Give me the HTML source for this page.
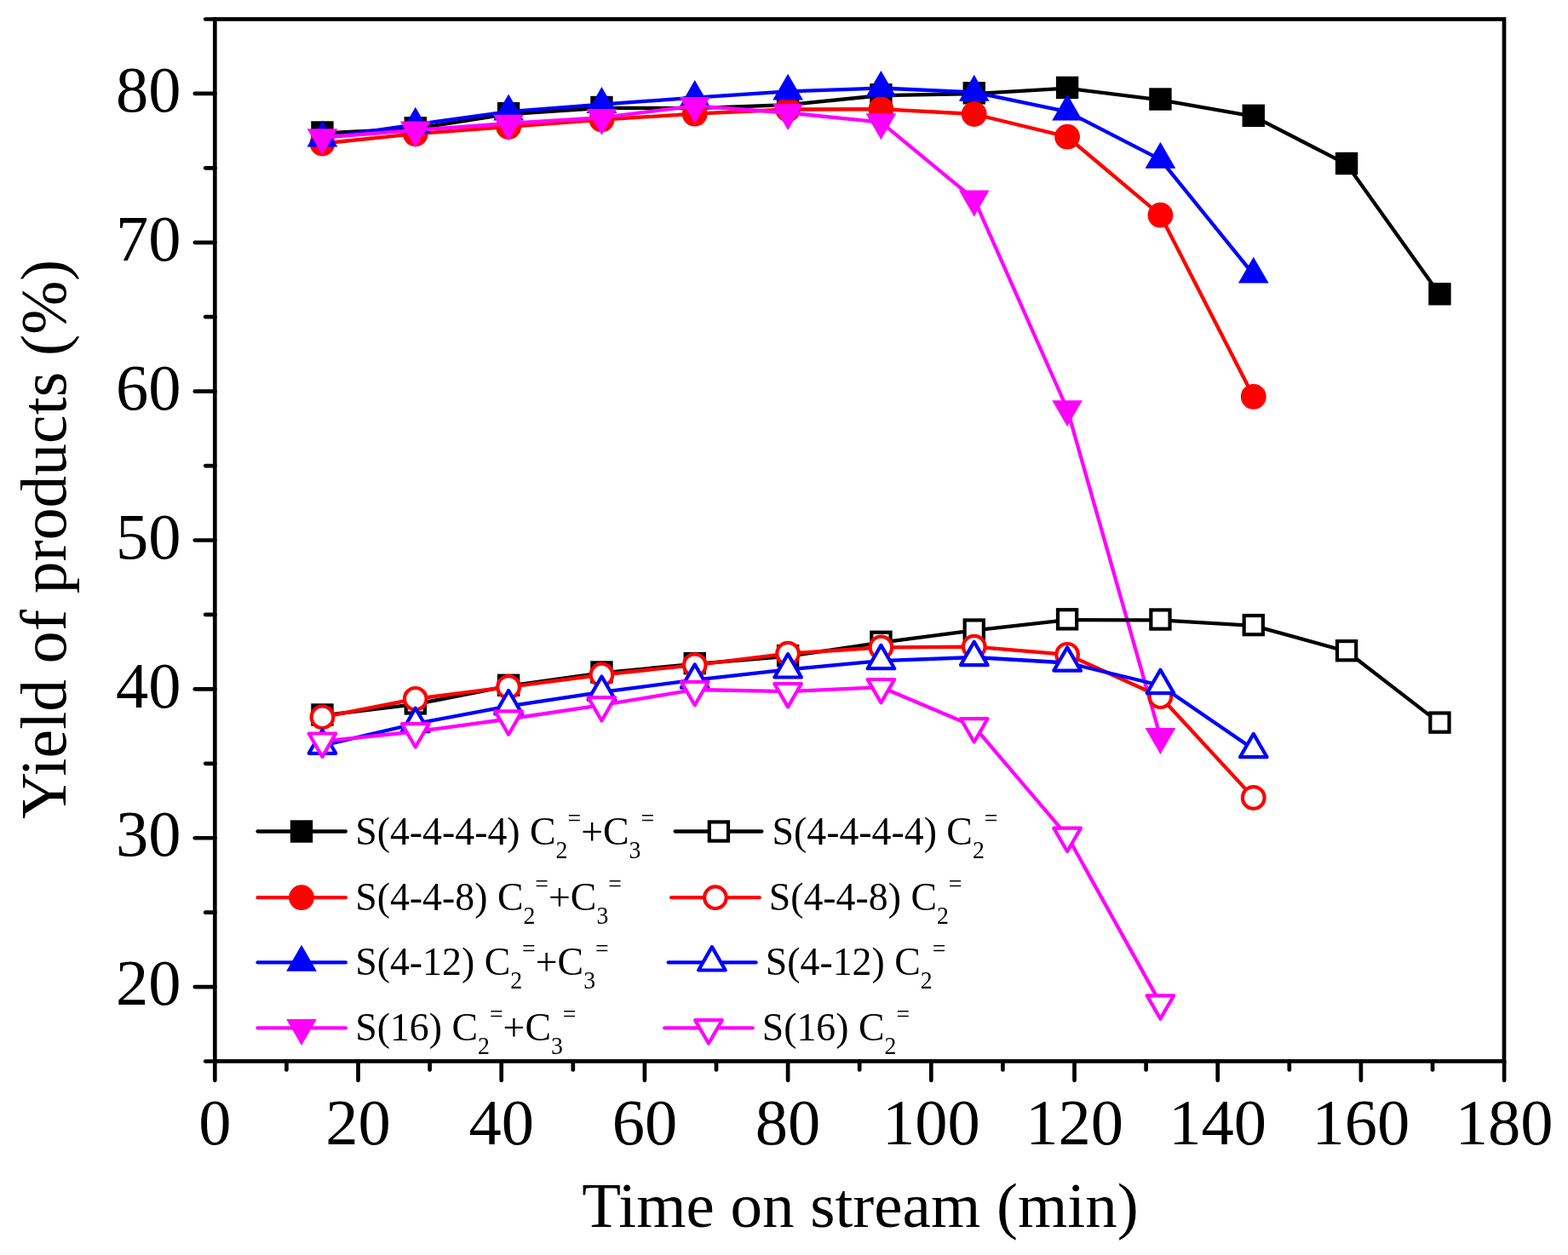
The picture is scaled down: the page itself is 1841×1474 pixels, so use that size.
<!DOCTYPE html>
<html><head><meta charset="utf-8"><title>Yield of products vs time on stream</title>
<style>html,body{margin:0;padding:0;background:#fff;}svg{display:block;}</style>
</head><body>
<svg width="1841" height="1474" viewBox="0 0 1841 1474">
<rect width="1841" height="1474" fill="#ffffff"/>
<path d="M378.45,156.30 L487.78,151.10 L597.11,134.00 L706.44,126.80 L815.77,127.10 L925.10,123.20 L1034.43,112.10 L1143.76,110.10 L1253.09,103.70 L1362.42,117.30 L1471.75,136.60 L1581.08,192.80 L1690.41,346.10" fill="none" stroke="#000000" stroke-width="4.3" stroke-linejoin="round" stroke-linecap="round"/>
<rect x="367.35" y="144.40" width="22.2" height="22.2" fill="#000000" stroke="#000000" stroke-width="4.2"/>
<rect x="476.68" y="139.20" width="22.2" height="22.2" fill="#000000" stroke="#000000" stroke-width="4.2"/>
<rect x="586.01" y="122.10" width="22.2" height="22.2" fill="#000000" stroke="#000000" stroke-width="4.2"/>
<rect x="695.34" y="114.90" width="22.2" height="22.2" fill="#000000" stroke="#000000" stroke-width="4.2"/>
<rect x="804.67" y="115.20" width="22.2" height="22.2" fill="#000000" stroke="#000000" stroke-width="4.2"/>
<rect x="914.00" y="111.30" width="22.2" height="22.2" fill="#000000" stroke="#000000" stroke-width="4.2"/>
<rect x="1023.33" y="100.20" width="22.2" height="22.2" fill="#000000" stroke="#000000" stroke-width="4.2"/>
<rect x="1132.66" y="98.20" width="22.2" height="22.2" fill="#000000" stroke="#000000" stroke-width="4.2"/>
<rect x="1241.99" y="91.80" width="22.2" height="22.2" fill="#000000" stroke="#000000" stroke-width="4.2"/>
<rect x="1351.32" y="105.40" width="22.2" height="22.2" fill="#000000" stroke="#000000" stroke-width="4.2"/>
<rect x="1460.65" y="124.70" width="22.2" height="22.2" fill="#000000" stroke="#000000" stroke-width="4.2"/>
<rect x="1569.98" y="180.90" width="22.2" height="22.2" fill="#000000" stroke="#000000" stroke-width="4.2"/>
<rect x="1679.31" y="334.20" width="22.2" height="22.2" fill="#000000" stroke="#000000" stroke-width="4.2"/>
<path d="M378.45,168.50 L487.78,157.10 L597.11,148.90 L706.44,140.50 L815.77,133.70 L925.10,128.50 L1034.43,128.20 L1143.76,134.00 L1253.09,160.70 L1362.42,252.70 L1471.75,465.90" fill="none" stroke="#ff0000" stroke-width="4.3" stroke-linejoin="round" stroke-linecap="round"/>
<circle cx="378.45" cy="168.50" r="12.8" fill="#ff0000" stroke="#ff0000" stroke-width="4.2"/>
<circle cx="487.78" cy="157.10" r="12.8" fill="#ff0000" stroke="#ff0000" stroke-width="4.2"/>
<circle cx="597.11" cy="148.90" r="12.8" fill="#ff0000" stroke="#ff0000" stroke-width="4.2"/>
<circle cx="706.44" cy="140.50" r="12.8" fill="#ff0000" stroke="#ff0000" stroke-width="4.2"/>
<circle cx="815.77" cy="133.70" r="12.8" fill="#ff0000" stroke="#ff0000" stroke-width="4.2"/>
<circle cx="925.10" cy="128.50" r="12.8" fill="#ff0000" stroke="#ff0000" stroke-width="4.2"/>
<circle cx="1034.43" cy="128.20" r="12.8" fill="#ff0000" stroke="#ff0000" stroke-width="4.2"/>
<circle cx="1143.76" cy="134.00" r="12.8" fill="#ff0000" stroke="#ff0000" stroke-width="4.2"/>
<circle cx="1253.09" cy="160.70" r="12.8" fill="#ff0000" stroke="#ff0000" stroke-width="4.2"/>
<circle cx="1362.42" cy="252.70" r="12.8" fill="#ff0000" stroke="#ff0000" stroke-width="4.2"/>
<circle cx="1471.75" cy="465.90" r="12.8" fill="#ff0000" stroke="#ff0000" stroke-width="4.2"/>
<path d="M378.45,162.20 L487.78,146.30 L597.11,131.10 L706.44,122.60 L815.77,114.60 L925.10,107.30 L1034.43,103.50 L1143.76,108.40 L1253.09,131.20 L1362.42,187.40 L1471.75,322.30" fill="none" stroke="#0000ff" stroke-width="4.3" stroke-linejoin="round" stroke-linecap="round"/>
<polygon points="378.45,141.59 396.30,172.51 360.60,172.51" fill="#0000ff"/>
<polygon points="487.78,125.69 505.63,156.61 469.93,156.61" fill="#0000ff"/>
<polygon points="597.11,110.49 614.96,141.41 579.26,141.41" fill="#0000ff"/>
<polygon points="706.44,101.99 724.29,132.91 688.59,132.91" fill="#0000ff"/>
<polygon points="815.77,93.99 833.62,124.91 797.92,124.91" fill="#0000ff"/>
<polygon points="925.10,86.69 942.95,117.61 907.25,117.61" fill="#0000ff"/>
<polygon points="1034.43,82.89 1052.28,113.81 1016.58,113.81" fill="#0000ff"/>
<polygon points="1143.76,87.79 1161.61,118.71 1125.91,118.71" fill="#0000ff"/>
<polygon points="1253.09,110.59 1270.94,141.51 1235.24,141.51" fill="#0000ff"/>
<polygon points="1362.42,166.79 1380.27,197.71 1344.57,197.71" fill="#0000ff"/>
<polygon points="1471.75,301.69 1489.60,332.61 1453.90,332.61" fill="#0000ff"/>
<path d="M378.45,161.50 L487.78,152.80 L597.11,145.00 L706.44,138.20 L815.77,124.40 L925.10,132.50 L1034.43,143.60 L1143.76,233.80 L1253.09,480.50 L1362.42,865.30" fill="none" stroke="#ff00ff" stroke-width="4.3" stroke-linejoin="round" stroke-linecap="round"/>
<polygon points="378.45,182.11 396.30,151.19 360.60,151.19" fill="#ff00ff"/>
<polygon points="487.78,173.41 505.63,142.49 469.93,142.49" fill="#ff00ff"/>
<polygon points="597.11,165.61 614.96,134.69 579.26,134.69" fill="#ff00ff"/>
<polygon points="706.44,158.81 724.29,127.89 688.59,127.89" fill="#ff00ff"/>
<polygon points="815.77,145.01 833.62,114.09 797.92,114.09" fill="#ff00ff"/>
<polygon points="925.10,153.11 942.95,122.19 907.25,122.19" fill="#ff00ff"/>
<polygon points="1034.43,164.21 1052.28,133.29 1016.58,133.29" fill="#ff00ff"/>
<polygon points="1143.76,254.41 1161.61,223.49 1125.91,223.49" fill="#ff00ff"/>
<polygon points="1253.09,501.11 1270.94,470.19 1235.24,470.19" fill="#ff00ff"/>
<polygon points="1362.42,885.91 1380.27,854.99 1344.57,854.99" fill="#ff00ff"/>
<path d="M378.45,840.30 L487.78,827.20 L597.11,805.60 L706.44,790.30 L815.77,779.90 L925.10,770.90 L1034.43,754.60 L1143.76,740.30 L1253.09,728.10 L1362.42,728.30 L1471.75,734.90 L1581.08,765.00 L1690.41,849.40" fill="none" stroke="#000000" stroke-width="4.3" stroke-linejoin="round" stroke-linecap="round"/>
<rect x="367.35" y="828.40" width="22.2" height="22.2" fill="#ffffff" stroke="#000000" stroke-width="4.2"/>
<rect x="476.68" y="815.30" width="22.2" height="22.2" fill="#ffffff" stroke="#000000" stroke-width="4.2"/>
<rect x="586.01" y="793.70" width="22.2" height="22.2" fill="#ffffff" stroke="#000000" stroke-width="4.2"/>
<rect x="695.34" y="778.40" width="22.2" height="22.2" fill="#ffffff" stroke="#000000" stroke-width="4.2"/>
<rect x="804.67" y="768.00" width="22.2" height="22.2" fill="#ffffff" stroke="#000000" stroke-width="4.2"/>
<rect x="914.00" y="759.00" width="22.2" height="22.2" fill="#ffffff" stroke="#000000" stroke-width="4.2"/>
<rect x="1023.33" y="742.70" width="22.2" height="22.2" fill="#ffffff" stroke="#000000" stroke-width="4.2"/>
<rect x="1132.66" y="728.40" width="22.2" height="22.2" fill="#ffffff" stroke="#000000" stroke-width="4.2"/>
<rect x="1241.99" y="716.20" width="22.2" height="22.2" fill="#ffffff" stroke="#000000" stroke-width="4.2"/>
<rect x="1351.32" y="716.40" width="22.2" height="22.2" fill="#ffffff" stroke="#000000" stroke-width="4.2"/>
<rect x="1460.65" y="723.00" width="22.2" height="22.2" fill="#ffffff" stroke="#000000" stroke-width="4.2"/>
<rect x="1569.98" y="753.10" width="22.2" height="22.2" fill="#ffffff" stroke="#000000" stroke-width="4.2"/>
<rect x="1679.31" y="837.50" width="22.2" height="22.2" fill="#ffffff" stroke="#000000" stroke-width="4.2"/>
<path d="M378.45,842.30 L487.78,820.80 L597.11,806.90 L706.44,792.50 L815.77,781.10 L925.10,767.60 L1034.43,760.40 L1143.76,759.60 L1253.09,768.80 L1362.42,818.20 L1471.75,936.90" fill="none" stroke="#ff0000" stroke-width="4.3" stroke-linejoin="round" stroke-linecap="round"/>
<circle cx="378.45" cy="842.30" r="12.8" fill="#ffffff" stroke="#ff0000" stroke-width="4.2"/>
<circle cx="487.78" cy="820.80" r="12.8" fill="#ffffff" stroke="#ff0000" stroke-width="4.2"/>
<circle cx="597.11" cy="806.90" r="12.8" fill="#ffffff" stroke="#ff0000" stroke-width="4.2"/>
<circle cx="706.44" cy="792.50" r="12.8" fill="#ffffff" stroke="#ff0000" stroke-width="4.2"/>
<circle cx="815.77" cy="781.10" r="12.8" fill="#ffffff" stroke="#ff0000" stroke-width="4.2"/>
<circle cx="925.10" cy="767.60" r="12.8" fill="#ffffff" stroke="#ff0000" stroke-width="4.2"/>
<circle cx="1034.43" cy="760.40" r="12.8" fill="#ffffff" stroke="#ff0000" stroke-width="4.2"/>
<circle cx="1143.76" cy="759.60" r="12.8" fill="#ffffff" stroke="#ff0000" stroke-width="4.2"/>
<circle cx="1253.09" cy="768.80" r="12.8" fill="#ffffff" stroke="#ff0000" stroke-width="4.2"/>
<circle cx="1362.42" cy="818.20" r="12.8" fill="#ffffff" stroke="#ff0000" stroke-width="4.2"/>
<circle cx="1471.75" cy="936.90" r="12.8" fill="#ffffff" stroke="#ff0000" stroke-width="4.2"/>
<path d="M378.45,875.70 L487.78,850.00 L597.11,829.30 L706.44,812.80 L815.77,798.60 L925.10,786.40 L1034.43,776.10 L1143.76,772.00 L1253.09,778.50 L1362.42,805.00 L1471.75,880.10" fill="none" stroke="#0000ff" stroke-width="4.3" stroke-linejoin="round" stroke-linecap="round"/>
<polygon points="378.45,857.46 394.25,884.82 362.65,884.82" fill="#ffffff" stroke="#0000ff" stroke-width="4.2" stroke-linejoin="round"/>
<polygon points="487.78,831.76 503.58,859.12 471.98,859.12" fill="#ffffff" stroke="#0000ff" stroke-width="4.2" stroke-linejoin="round"/>
<polygon points="597.11,811.06 612.91,838.42 581.31,838.42" fill="#ffffff" stroke="#0000ff" stroke-width="4.2" stroke-linejoin="round"/>
<polygon points="706.44,794.56 722.24,821.92 690.64,821.92" fill="#ffffff" stroke="#0000ff" stroke-width="4.2" stroke-linejoin="round"/>
<polygon points="815.77,780.36 831.57,807.72 799.97,807.72" fill="#ffffff" stroke="#0000ff" stroke-width="4.2" stroke-linejoin="round"/>
<polygon points="925.10,768.16 940.90,795.52 909.30,795.52" fill="#ffffff" stroke="#0000ff" stroke-width="4.2" stroke-linejoin="round"/>
<polygon points="1034.43,757.86 1050.23,785.22 1018.63,785.22" fill="#ffffff" stroke="#0000ff" stroke-width="4.2" stroke-linejoin="round"/>
<polygon points="1143.76,753.76 1159.56,781.12 1127.96,781.12" fill="#ffffff" stroke="#0000ff" stroke-width="4.2" stroke-linejoin="round"/>
<polygon points="1253.09,760.26 1268.89,787.62 1237.29,787.62" fill="#ffffff" stroke="#0000ff" stroke-width="4.2" stroke-linejoin="round"/>
<polygon points="1362.42,786.76 1378.22,814.12 1346.62,814.12" fill="#ffffff" stroke="#0000ff" stroke-width="4.2" stroke-linejoin="round"/>
<polygon points="1471.75,861.86 1487.55,889.22 1455.95,889.22" fill="#ffffff" stroke="#0000ff" stroke-width="4.2" stroke-linejoin="round"/>
<path d="M378.45,870.60 L487.78,859.30 L597.11,844.50 L706.44,828.20 L815.77,810.00 L925.10,812.10 L1034.43,807.10 L1143.76,853.30 L1253.09,981.80 L1362.42,1178.40" fill="none" stroke="#ff00ff" stroke-width="4.3" stroke-linejoin="round" stroke-linecap="round"/>
<polygon points="378.45,888.84 394.25,861.48 362.65,861.48" fill="#ffffff" stroke="#ff00ff" stroke-width="4.2" stroke-linejoin="round"/>
<polygon points="487.78,877.54 503.58,850.18 471.98,850.18" fill="#ffffff" stroke="#ff00ff" stroke-width="4.2" stroke-linejoin="round"/>
<polygon points="597.11,862.74 612.91,835.38 581.31,835.38" fill="#ffffff" stroke="#ff00ff" stroke-width="4.2" stroke-linejoin="round"/>
<polygon points="706.44,846.44 722.24,819.08 690.64,819.08" fill="#ffffff" stroke="#ff00ff" stroke-width="4.2" stroke-linejoin="round"/>
<polygon points="815.77,828.24 831.57,800.88 799.97,800.88" fill="#ffffff" stroke="#ff00ff" stroke-width="4.2" stroke-linejoin="round"/>
<polygon points="925.10,830.34 940.90,802.98 909.30,802.98" fill="#ffffff" stroke="#ff00ff" stroke-width="4.2" stroke-linejoin="round"/>
<polygon points="1034.43,825.34 1050.23,797.98 1018.63,797.98" fill="#ffffff" stroke="#ff00ff" stroke-width="4.2" stroke-linejoin="round"/>
<polygon points="1143.76,871.54 1159.56,844.18 1127.96,844.18" fill="#ffffff" stroke="#ff00ff" stroke-width="4.2" stroke-linejoin="round"/>
<polygon points="1253.09,1000.04 1268.89,972.68 1237.29,972.68" fill="#ffffff" stroke="#ff00ff" stroke-width="4.2" stroke-linejoin="round"/>
<polygon points="1362.42,1196.64 1378.22,1169.28 1346.62,1169.28" fill="#ffffff" stroke="#ff00ff" stroke-width="4.2" stroke-linejoin="round"/>
<rect x="252.3" y="22.5" width="1513.7" height="1223.9" fill="none" stroke="#000" stroke-width="4.7" stroke-linejoin="miter"/>
<line x1="252.3" y1="1246.52" x2="241.2" y2="1246.52" stroke="#000" stroke-width="4.7" stroke-linecap="round"/>
<line x1="252.3" y1="1159.09" x2="228.8" y2="1159.09" stroke="#000" stroke-width="4.7" stroke-linecap="round"/>
<line x1="252.3" y1="1071.66" x2="241.2" y2="1071.66" stroke="#000" stroke-width="4.7" stroke-linecap="round"/>
<line x1="252.3" y1="984.23" x2="228.8" y2="984.23" stroke="#000" stroke-width="4.7" stroke-linecap="round"/>
<line x1="252.3" y1="896.80" x2="241.2" y2="896.80" stroke="#000" stroke-width="4.7" stroke-linecap="round"/>
<line x1="252.3" y1="809.37" x2="228.8" y2="809.37" stroke="#000" stroke-width="4.7" stroke-linecap="round"/>
<line x1="252.3" y1="721.94" x2="241.2" y2="721.94" stroke="#000" stroke-width="4.7" stroke-linecap="round"/>
<line x1="252.3" y1="634.51" x2="228.8" y2="634.51" stroke="#000" stroke-width="4.7" stroke-linecap="round"/>
<line x1="252.3" y1="547.08" x2="241.2" y2="547.08" stroke="#000" stroke-width="4.7" stroke-linecap="round"/>
<line x1="252.3" y1="459.65" x2="228.8" y2="459.65" stroke="#000" stroke-width="4.7" stroke-linecap="round"/>
<line x1="252.3" y1="372.22" x2="241.2" y2="372.22" stroke="#000" stroke-width="4.7" stroke-linecap="round"/>
<line x1="252.3" y1="284.79" x2="228.8" y2="284.79" stroke="#000" stroke-width="4.7" stroke-linecap="round"/>
<line x1="252.3" y1="197.36" x2="241.2" y2="197.36" stroke="#000" stroke-width="4.7" stroke-linecap="round"/>
<line x1="252.3" y1="109.93" x2="228.8" y2="109.93" stroke="#000" stroke-width="4.7" stroke-linecap="round"/>
<line x1="252.3" y1="22.50" x2="241.2" y2="22.50" stroke="#000" stroke-width="4.7" stroke-linecap="round"/>
<line x1="252.30" y1="1246.4" x2="252.30" y2="1268.8" stroke="#000" stroke-width="4.7" stroke-linecap="round"/>
<line x1="336.40" y1="1246.4" x2="336.40" y2="1256.5" stroke="#000" stroke-width="4.7" stroke-linecap="round"/>
<line x1="420.50" y1="1246.4" x2="420.50" y2="1268.8" stroke="#000" stroke-width="4.7" stroke-linecap="round"/>
<line x1="504.60" y1="1246.4" x2="504.60" y2="1256.5" stroke="#000" stroke-width="4.7" stroke-linecap="round"/>
<line x1="588.70" y1="1246.4" x2="588.70" y2="1268.8" stroke="#000" stroke-width="4.7" stroke-linecap="round"/>
<line x1="672.80" y1="1246.4" x2="672.80" y2="1256.5" stroke="#000" stroke-width="4.7" stroke-linecap="round"/>
<line x1="756.90" y1="1246.4" x2="756.90" y2="1268.8" stroke="#000" stroke-width="4.7" stroke-linecap="round"/>
<line x1="841.00" y1="1246.4" x2="841.00" y2="1256.5" stroke="#000" stroke-width="4.7" stroke-linecap="round"/>
<line x1="925.10" y1="1246.4" x2="925.10" y2="1268.8" stroke="#000" stroke-width="4.7" stroke-linecap="round"/>
<line x1="1009.20" y1="1246.4" x2="1009.20" y2="1256.5" stroke="#000" stroke-width="4.7" stroke-linecap="round"/>
<line x1="1093.30" y1="1246.4" x2="1093.30" y2="1268.8" stroke="#000" stroke-width="4.7" stroke-linecap="round"/>
<line x1="1177.40" y1="1246.4" x2="1177.40" y2="1256.5" stroke="#000" stroke-width="4.7" stroke-linecap="round"/>
<line x1="1261.50" y1="1246.4" x2="1261.50" y2="1268.8" stroke="#000" stroke-width="4.7" stroke-linecap="round"/>
<line x1="1345.60" y1="1246.4" x2="1345.60" y2="1256.5" stroke="#000" stroke-width="4.7" stroke-linecap="round"/>
<line x1="1429.70" y1="1246.4" x2="1429.70" y2="1268.8" stroke="#000" stroke-width="4.7" stroke-linecap="round"/>
<line x1="1513.80" y1="1246.4" x2="1513.80" y2="1256.5" stroke="#000" stroke-width="4.7" stroke-linecap="round"/>
<line x1="1597.90" y1="1246.4" x2="1597.90" y2="1268.8" stroke="#000" stroke-width="4.7" stroke-linecap="round"/>
<line x1="1682.00" y1="1246.4" x2="1682.00" y2="1256.5" stroke="#000" stroke-width="4.7" stroke-linecap="round"/>
<line x1="1766.10" y1="1246.4" x2="1766.10" y2="1268.8" stroke="#000" stroke-width="4.7" stroke-linecap="round"/>
<text x="212.5" y="1180.3" text-anchor="end" font-family="'Liberation Serif', 'Times New Roman', serif" font-size="76.5">20</text>
<text x="212.5" y="1005.4" text-anchor="end" font-family="'Liberation Serif', 'Times New Roman', serif" font-size="76.5">30</text>
<text x="212.5" y="830.6" text-anchor="end" font-family="'Liberation Serif', 'Times New Roman', serif" font-size="76.5">40</text>
<text x="212.5" y="655.7" text-anchor="end" font-family="'Liberation Serif', 'Times New Roman', serif" font-size="76.5">50</text>
<text x="212.5" y="480.9" text-anchor="end" font-family="'Liberation Serif', 'Times New Roman', serif" font-size="76.5">60</text>
<text x="212.5" y="306.0" text-anchor="end" font-family="'Liberation Serif', 'Times New Roman', serif" font-size="76.5">70</text>
<text x="212.5" y="131.1" text-anchor="end" font-family="'Liberation Serif', 'Times New Roman', serif" font-size="76.5">80</text>
<text x="252.30" y="1344.2" text-anchor="middle" font-family="'Liberation Serif', 'Times New Roman', serif" font-size="76.5">0</text>
<text x="420.50" y="1344.2" text-anchor="middle" font-family="'Liberation Serif', 'Times New Roman', serif" font-size="76.5">20</text>
<text x="588.70" y="1344.2" text-anchor="middle" font-family="'Liberation Serif', 'Times New Roman', serif" font-size="76.5">40</text>
<text x="756.90" y="1344.2" text-anchor="middle" font-family="'Liberation Serif', 'Times New Roman', serif" font-size="76.5">60</text>
<text x="925.10" y="1344.2" text-anchor="middle" font-family="'Liberation Serif', 'Times New Roman', serif" font-size="76.5">80</text>
<text x="1093.30" y="1344.2" text-anchor="middle" font-family="'Liberation Serif', 'Times New Roman', serif" font-size="76.5">100</text>
<text x="1261.50" y="1344.2" text-anchor="middle" font-family="'Liberation Serif', 'Times New Roman', serif" font-size="76.5">120</text>
<text x="1429.70" y="1344.2" text-anchor="middle" font-family="'Liberation Serif', 'Times New Roman', serif" font-size="76.5">140</text>
<text x="1597.90" y="1344.2" text-anchor="middle" font-family="'Liberation Serif', 'Times New Roman', serif" font-size="76.5">160</text>
<text x="1766.10" y="1344.2" text-anchor="middle" font-family="'Liberation Serif', 'Times New Roman', serif" font-size="76.5">180</text>
<text x="683.2" y="1440.5" font-family="'Liberation Serif', 'Times New Roman', serif" font-size="75">Time on stream (min)</text>
<text transform="translate(77,961.8) rotate(-90)" font-family="'Liberation Serif', 'Times New Roman', serif" font-size="75.6">Yield of products (%)</text>
<line x1="302.5" y1="976.5" x2="405.9" y2="976.5" stroke="#000000" stroke-width="4.3" stroke-linecap="round"/>
<rect x="342.90" y="965.40" width="22.2" height="22.2" fill="#000000" stroke="#000000" stroke-width="4.2"/>
<g transform="translate(417.20,0) scale(0.975,1)"><text x="0" y="991.60" font-family="'Liberation Serif', 'Times New Roman', serif" font-size="47">S(4-4-4-4) C<tspan font-size="28.5" dy="16">2</tspan><tspan font-size="28.5" dy="-37">=</tspan><tspan dy="21">+C</tspan><tspan font-size="28.5" dy="16">3</tspan><tspan font-size="28.5" dy="-37">=</tspan></text></g>
<line x1="792.7" y1="976.5" x2="894.4" y2="976.5" stroke="#000000" stroke-width="4.3" stroke-linecap="round"/>
<rect x="832.80" y="965.40" width="22.2" height="22.2" fill="#ffffff" stroke="#000000" stroke-width="4.2"/>
<g transform="translate(906.50,0) scale(0.975,1)"><text x="0" y="991.60" font-family="'Liberation Serif', 'Times New Roman', serif" font-size="47">S(4-4-4-4) C<tspan font-size="28.5" dy="16">2</tspan><tspan font-size="28.5" dy="-37">=</tspan></text></g>
<line x1="302.5" y1="1054.2" x2="405.9" y2="1054.2" stroke="#ff0000" stroke-width="4.3" stroke-linecap="round"/>
<circle cx="354.00" cy="1054.20" r="12.8" fill="#ff0000" stroke="#ff0000" stroke-width="4.2"/>
<g transform="translate(417.20,0) scale(0.975,1)"><text x="0" y="1069.30" font-family="'Liberation Serif', 'Times New Roman', serif" font-size="47">S(4-4-8) C<tspan font-size="28.5" dy="16">2</tspan><tspan font-size="28.5" dy="-37">=</tspan><tspan dy="21">+C</tspan><tspan font-size="28.5" dy="16">3</tspan><tspan font-size="28.5" dy="-37">=</tspan></text></g>
<line x1="788.2" y1="1054.2" x2="891.6999999999999" y2="1054.2" stroke="#ff0000" stroke-width="4.3" stroke-linecap="round"/>
<circle cx="839.90" cy="1054.20" r="12.8" fill="#ffffff" stroke="#ff0000" stroke-width="4.2"/>
<g transform="translate(902.70,0) scale(0.975,1)"><text x="0" y="1069.30" font-family="'Liberation Serif', 'Times New Roman', serif" font-size="47">S(4-4-8) C<tspan font-size="28.5" dy="16">2</tspan><tspan font-size="28.5" dy="-37">=</tspan></text></g>
<line x1="302.5" y1="1130.4" x2="405.9" y2="1130.4" stroke="#0000ff" stroke-width="4.3" stroke-linecap="round"/>
<polygon points="354.00,1109.79 371.85,1140.71 336.15,1140.71" fill="#0000ff"/>
<g transform="translate(417.20,0) scale(0.975,1)"><text x="0" y="1145.50" font-family="'Liberation Serif', 'Times New Roman', serif" font-size="47">S(4-12) C<tspan font-size="28.5" dy="16">2</tspan><tspan font-size="28.5" dy="-37">=</tspan><tspan dy="21">+C</tspan><tspan font-size="28.5" dy="16">3</tspan><tspan font-size="28.5" dy="-37">=</tspan></text></g>
<line x1="784.7" y1="1130.4" x2="887.5999999999999" y2="1130.4" stroke="#0000ff" stroke-width="4.3" stroke-linecap="round"/>
<polygon points="835.90,1112.16 851.70,1139.52 820.10,1139.52" fill="#ffffff" stroke="#0000ff" stroke-width="4.2" stroke-linejoin="round"/>
<g transform="translate(898.80,0) scale(0.975,1)"><text x="0" y="1145.50" font-family="'Liberation Serif', 'Times New Roman', serif" font-size="47">S(4-12) C<tspan font-size="28.5" dy="16">2</tspan><tspan font-size="28.5" dy="-37">=</tspan></text></g>
<line x1="302.5" y1="1207.3" x2="405.9" y2="1207.3" stroke="#ff00ff" stroke-width="4.3" stroke-linecap="round"/>
<polygon points="354.00,1227.91 371.85,1196.99 336.15,1196.99" fill="#ff00ff"/>
<g transform="translate(417.20,0) scale(0.975,1)"><text x="0" y="1222.40" font-family="'Liberation Serif', 'Times New Roman', serif" font-size="47">S(16) C<tspan font-size="28.5" dy="16">2</tspan><tspan font-size="28.5" dy="-37">=</tspan><tspan dy="21">+C</tspan><tspan font-size="28.5" dy="16">3</tspan><tspan font-size="28.5" dy="-37">=</tspan></text></g>
<line x1="780.2" y1="1207.3" x2="883.6999999999999" y2="1207.3" stroke="#ff00ff" stroke-width="4.3" stroke-linecap="round"/>
<polygon points="832.00,1225.54 847.80,1198.18 816.20,1198.18" fill="#ffffff" stroke="#ff00ff" stroke-width="4.2" stroke-linejoin="round"/>
<g transform="translate(894.70,0) scale(0.975,1)"><text x="0" y="1222.40" font-family="'Liberation Serif', 'Times New Roman', serif" font-size="47">S(16) C<tspan font-size="28.5" dy="16">2</tspan><tspan font-size="28.5" dy="-37">=</tspan></text></g>
</svg>
</body></html>
